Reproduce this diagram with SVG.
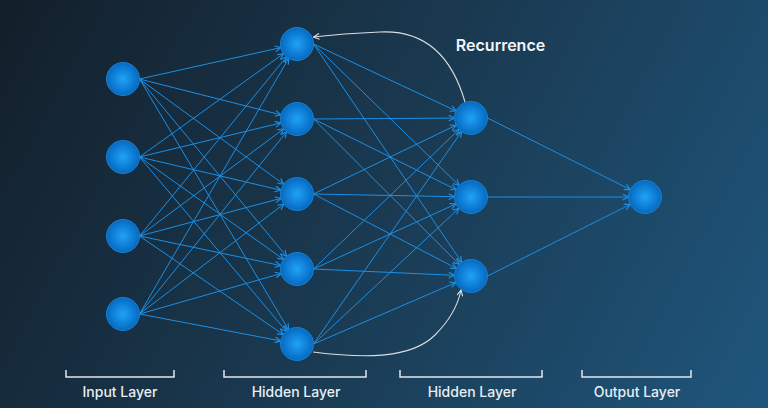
<svg xmlns="http://www.w3.org/2000/svg" width="768" height="408" viewBox="0 0 768 408">
<defs>
<linearGradient id="bg" gradientUnits="userSpaceOnUse" x1="0" y1="0" x2="768" y2="408">
<stop offset="0" stop-color="#131f2a"/>
<stop offset="0.5" stop-color="#1a3a52"/>
<stop offset="1" stop-color="#1f567c"/>
</linearGradient>
<radialGradient id="nodeFill" cx="0.5" cy="0.5" r="0.5">
<stop offset="0" stop-color="#20a2f4"/>
<stop offset="0.75" stop-color="#0b78d0"/>
<stop offset="1" stop-color="#0869bc"/>
</radialGradient>
<marker id="ah" markerUnits="userSpaceOnUse" markerWidth="7" markerHeight="7" viewBox="0 0 6 6" refX="5.5" refY="3" orient="auto">
<path d="M0.5,0.5 L5.5,3 L0.5,5.5" fill="none" stroke="#1b8fe6" stroke-width="1"/>
</marker>
<marker id="ahw" markerUnits="userSpaceOnUse" markerWidth="7" markerHeight="7" viewBox="0 0 6 6" refX="5.5" refY="3" orient="auto">
<path d="M0.5,0.5 L5.5,3 L0.5,5.5" fill="none" stroke="#d8dde2" stroke-width="1"/>
</marker>
</defs>
<style>
.e{stroke:#1b8fe6;stroke-width:1;fill:none;marker-end:url(#ah)}
.r{stroke:#d8dde2;stroke-width:1.1;fill:none;marker-end:url(#ahw)}
.n{fill:url(#nodeFill);stroke:#1680d4;stroke-width:1}
.b{stroke:#e2e8ee;stroke-width:1.5;fill:none}
.lbl{font-family:Inter,"Liberation Sans",sans-serif;font-size:14px;font-weight:500;fill:#e8eef4;text-anchor:middle}
.title{font-family:Inter,"Liberation Sans",sans-serif;font-size:16px;font-weight:600;fill:#f2f5f8;text-anchor:middle}
</style>
<rect width="768" height="408" fill="url(#bg)"/>
<g id="connectors">
<line class="e" x1="139.5" y1="79" x2="280.9" y2="47.6"/>
<line class="e" x1="139.5" y1="79" x2="281.0" y2="114.9"/>
<line class="e" x1="139.5" y1="79" x2="283.7" y2="184.3"/>
<line class="e" x1="139.5" y1="79" x2="286.5" y2="256.3"/>
<line class="e" x1="139.5" y1="79" x2="288.6" y2="329.8"/>
<line class="e" x1="139.5" y1="157" x2="283.6" y2="53.6"/>
<line class="e" x1="139.5" y1="157" x2="281.0" y2="122.9"/>
<line class="e" x1="139.5" y1="157" x2="280.9" y2="190.2"/>
<line class="e" x1="139.5" y1="157" x2="283.6" y2="259.4"/>
<line class="e" x1="139.5" y1="157" x2="286.4" y2="331.4"/>
<line class="e" x1="139.5" y1="236" x2="286.5" y2="56.8"/>
<line class="e" x1="139.5" y1="236" x2="283.8" y2="128.8"/>
<line class="e" x1="139.5" y1="236" x2="281.1" y2="198.3"/>
<line class="e" x1="139.5" y1="236" x2="280.8" y2="265.6"/>
<line class="e" x1="139.5" y1="236" x2="283.4" y2="334.7"/>
<line class="e" x1="139.5" y1="314" x2="288.7" y2="58.3"/>
<line class="e" x1="139.5" y1="314" x2="286.6" y2="131.8"/>
<line class="e" x1="139.5" y1="314" x2="283.9" y2="204.0"/>
<line class="e" x1="139.5" y1="314" x2="281.1" y2="273.5"/>
<line class="e" x1="139.5" y1="314" x2="280.8" y2="340.9"/>
<line class="e" x1="313.5" y1="44" x2="456.1" y2="111.0"/>
<line class="e" x1="313.5" y1="44" x2="459.2" y2="185.5"/>
<line class="e" x1="313.5" y1="44" x2="461.7" y2="262.3"/>
<line class="e" x1="313.5" y1="119" x2="454.5" y2="118.1"/>
<line class="e" x1="313.5" y1="119" x2="456.2" y2="189.7"/>
<line class="e" x1="313.5" y1="119" x2="459.3" y2="264.4"/>
<line class="e" x1="313.5" y1="194" x2="456.1" y2="125.2"/>
<line class="e" x1="313.5" y1="194" x2="454.5" y2="196.7"/>
<line class="e" x1="313.5" y1="194" x2="456.4" y2="268.4"/>
<line class="e" x1="313.5" y1="269" x2="459.1" y2="129.4"/>
<line class="e" x1="313.5" y1="269" x2="456.0" y2="203.9"/>
<line class="e" x1="313.5" y1="269" x2="454.5" y2="275.3"/>
<line class="e" x1="313.5" y1="344" x2="461.6" y2="131.5"/>
<line class="e" x1="313.5" y1="344" x2="458.9" y2="208.3"/>
<line class="e" x1="313.5" y1="344" x2="455.9" y2="282.5"/>
<line class="e" x1="487.5" y1="118" x2="630.3" y2="189.6"/>
<line class="e" x1="487.5" y1="197" x2="628.5" y2="197"/>
<line class="e" x1="487.5" y1="276" x2="630.3" y2="204.4"/>
<path class="r" d="M465,102 C450,50 420,30 380,32 C355,33 330,35 313.5,37"/>
<path class="r" d="M313,352 C360,358 410,360 435,335 C450,320 458,305 461,290"/>
</g>
<g id="input-layer">
<circle class="n" cx="123" cy="79" r="16.5"/>
<circle class="n" cx="123" cy="157" r="16.5"/>
<circle class="n" cx="123" cy="236" r="16.5"/>
<circle class="n" cx="123" cy="314" r="16.5"/>
</g>
<g id="hidden-layer-1">
<circle class="n" cx="297" cy="44" r="16.5"/>
<circle class="n" cx="297" cy="119" r="16.5"/>
<circle class="n" cx="297" cy="194" r="16.5"/>
<circle class="n" cx="297" cy="269" r="16.5"/>
<circle class="n" cx="297" cy="344" r="16.5"/>
</g>
<g id="hidden-layer-2">
<circle class="n" cx="471" cy="118" r="16.5"/>
<circle class="n" cx="471" cy="197" r="16.5"/>
<circle class="n" cx="471" cy="276" r="16.5"/>
</g>
<g id="output-layer">
<circle class="n" cx="645" cy="197" r="16.5"/>
</g>
<g id="recurrence-label">
<text class="title" x="500.5" y="51">Recurrence</text>
</g>
<g id="labels">
<path class="b" d="M66,370 V377 H174 V370"/>
<text class="lbl" x="120" y="397">Input Layer</text>
<path class="b" d="M224,370 V377 H366 V370"/>
<text class="lbl" x="296" y="397">Hidden Layer</text>
<path class="b" d="M400,370 V377 H542 V370"/>
<text class="lbl" x="472" y="397">Hidden Layer</text>
<path class="b" d="M582,370 V377 H691 V370"/>
<text class="lbl" x="637" y="397">Output Layer</text>
</g>
</svg>
